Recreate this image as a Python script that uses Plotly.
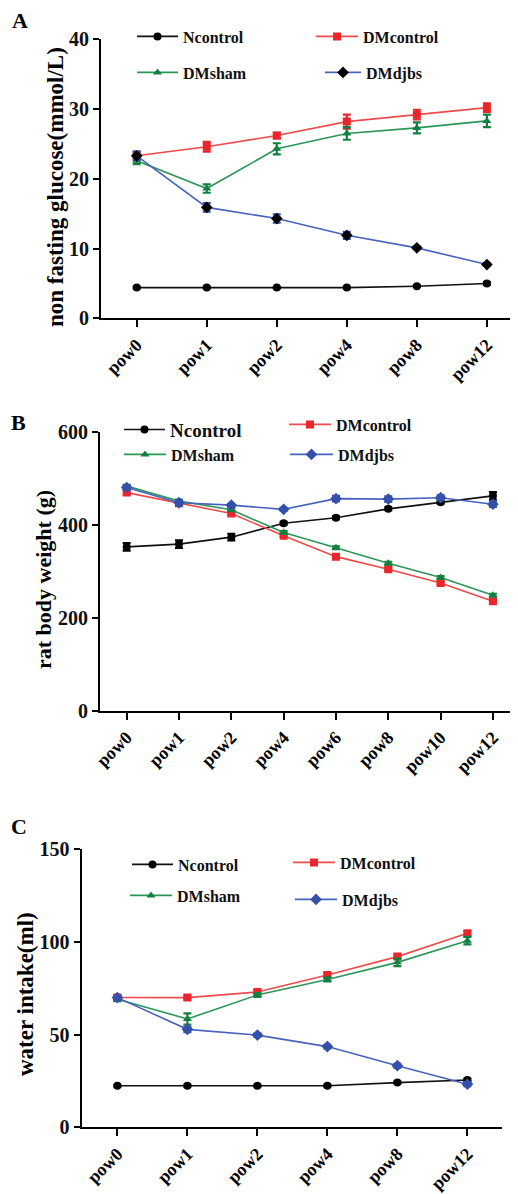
import plotly.graph_objects as go

# The page body keeps its default 8px margin, so the figure is drawn 8px
# in from the window's top-left corner; positions below are window pixels.
OFF = 8
WIN_W, WIN_H = 518, 1194
W, H = WIN_W - OFF, WIN_H - OFF
SERIF = "Liberation Serif"

# ---------------- data ----------------
series_names = ["Ncontrol", "DMcontrol", "DMsham", "DMdjbs"]

cats_a = ["pow0", "pow1", "pow2", "pow4", "pow8", "pow12"]
glu_n = [4.4, 4.4, 4.4, 4.4, 4.6, 5.0]
glu_n_err = [0.1, 0.1, 0.1, 0.1, 0.1, 0.2]
glu_dmc = [23.3, 24.6, 26.2, 28.2, 29.2, 30.2]
glu_dmc_err = [0.6, 0.7, 0.4, 1.0, 0.7, 0.6]
glu_dms = [22.6, 18.6, 24.3, 26.5, 27.3, 28.3]
glu_dms_err = [0.5, 0.6, 0.8, 0.9, 0.8, 0.9]
glu_dmd = [23.3, 15.9, 14.3, 11.9, 10.1, 7.7]
glu_dmd_err = [0.6, 0.6, 0.6, 0.5, 0.2, 0.2]

cats_b = ["pow0", "pow1", "pow2", "pow4", "pow6", "pow8", "pow10", "pow12"]
bw_n = [353, 359, 374, 404, 416, 435, 449, 463]
bw_n_err = [8, 8, 7, 3, 3, 3, 3, 8]
bw_dmc = [470, 447, 425, 377, 332, 305, 275, 236]
bw_dmc_err = [4, 3, 3, 3, 3, 3, 3, 3]
bw_dms = [484, 452, 433, 384, 351, 318, 287, 249]
bw_dms_err = [3, 3, 3, 3, 3, 3, 3, 3]
bw_dmd = [481, 448, 443, 434, 457, 456, 459, 445]
bw_dmd_err = [4, 6, 3, 3, 6, 6, 5, 6]

cats_c = ["pow0", "pow1", "pow2", "pow4", "pow8", "pow12"]
wi_n = [22.4, 22.4, 22.4, 22.4, 24.1, 25.5]
wi_n_err = [0.5, 0.5, 0.5, 0.5, 0.5, 0.8]
wi_dmc = [70.0, 69.9, 72.9, 82.1, 92.0, 104.6]
wi_dmc_err = [1.0, 1.0, 1.0, 1.0, 1.0, 1.2]
wi_dms = [69.0, 58.4, 71.3, 79.7, 88.9, 100.6]
wi_dms_err = [1.0, 3.0, 1.0, 1.0, 2.0, 2.0]
wi_dmd = [69.9, 52.8, 49.7, 43.5, 33.2, 23.2]
wi_dmd_err = [1.0, 1.5, 1.0, 1.0, 1.0, 1.0]

# ---------------- styles ----------------
LINE_COL = {"Ncontrol": "#111111", "DMcontrol": "#f04a4a",
            "DMsham": "#2b9656", "DMdjbs": "#4863be"}
MARK_COL = {"Ncontrol": "#000000", "DMcontrol": "#e8262b",
            "DMsham": "#128040", "DMdjbs": "#3550aa"}
SYMBOL = {"Ncontrol": "circle", "DMcontrol": "square",
          "DMsham": "triangle-up", "DMdjbs": "diamond"}
MSIZE = {"Ncontrol": 8, "DMcontrol": 8, "DMsham": 8, "DMdjbs": 9}

fig = go.Figure()


def px_x(p):
    return (p - OFF) / W


def px_y(p):
    return 1 - (p - OFF) / H


panels = [
    dict(key="", cats=cats_a,
         data=[("Ncontrol", glu_n, glu_n_err), ("DMcontrol", glu_dmc, glu_dmc_err),
               ("DMsham", glu_dms, glu_dms_err), ("DMdjbs", glu_dmd, glu_dmd_err)],
         xd=(101, 517), yd=(39.3, 318.3), xr=[-0.51, 5.43], yr=[0, 40], dt=10,
         djbs_marker="#000000",
         legends=[(152, 35, 183, 16), (331, 35, 363, 16), (152, 71, 183, 16), (340, 71, 366, 16)]),
    dict(key="2", cats=cats_b,
         data=[("Ncontrol", bw_n, bw_n_err), ("DMcontrol", bw_dmc, bw_dmc_err),
               ("DMsham", bw_dms, bw_dms_err), ("DMdjbs", bw_dmd, bw_dmd_err)],
         xd=(100, 517), yd=(432.3, 710.7), xr=[-0.51, 7.46], yr=[0, 600], dt=200,
         djbs_marker=None,
         legends=[(139, 429, 170, 19), (304, 423, 336, 16), (139, 453, 171, 16), (305, 453, 338, 16)]),
    dict(key="3", cats=cats_c,
         data=[("Ncontrol", wi_n, wi_n_err), ("DMcontrol", wi_dmc, wi_dmc_err),
               ("DMsham", wi_dms, wi_dms_err), ("DMdjbs", wi_dmd, wi_dmd_err)],
         xd=(81.7, 501.7), yd=(849, 1127.3), xr=[-0.51, 5.49], yr=[0, 150], dt=50,
         djbs_marker=None,
         legends=[(147, 863, 178, 16), (308, 861, 340, 16), (145, 894, 177, 16), (310, 898, 342, 16)]),
]

layout_extra = {}
legend_idx = 0
for p in panels:
    xa = "x" + p["key"]
    ya = "y" + p["key"]
    xs = list(range(len(p["cats"])))
    for j, (name, vals, err) in enumerate(p["data"]):
        legend_idx += 1
        lname = "legend" if legend_idx == 1 else f"legend{legend_idx}"
        mcol = MARK_COL[name]
        if name == "DMdjbs" and p["djbs_marker"]:
            mcol = p["djbs_marker"]
        fig.add_trace(go.Scatter(
            x=xs, y=vals, xaxis=xa, yaxis=ya, name=name,
            mode="lines+markers",
            line=dict(color=LINE_COL[name], width=1.6),
            marker=dict(symbol=SYMBOL[name], size=MSIZE[name], color=mcol),
            error_y=dict(type="data", array=err, visible=True,
                         color=MARK_COL[name], thickness=2.2, width=4),
            legend=lname, legendgroup=lname, showlegend=True,
        ))
        mx, my, tx, fs = p["legends"][j]
        start = mx - 20
        layout_extra[lname] = dict(
            x=px_x(start), y=px_y(my - 15.5 * fs / 16), xanchor="left", yanchor="top",
            orientation="v", bgcolor="rgba(0,0,0,0)", borderwidth=0,
            itemwidth=max(30, tx - start - 10),
            font=dict(family=SERIF, size=fs, color="#111111", weight="bold"),
        )

    xkey = "xaxis" + p["key"]
    ykey = "yaxis" + p["key"]
    layout_extra[xkey] = dict(
        domain=[px_x(p["xd"][0]), min(1, px_x(p["xd"][1]))], anchor=ya,
        range=p["xr"], tickmode="array", tickvals=xs, ticktext=p["cats"],
        tickangle=-45, ticks="outside", ticklen=7, tickwidth=2, tickcolor="#000",
        showline=True, linecolor="#000", linewidth=2.2, showgrid=False, zeroline=False,
        tickfont=dict(family=SERIF, size=18, color="#000", weight="bold"),
        fixedrange=True, automargin=False,
    )
    layout_extra[ykey] = dict(
        domain=[px_y(p["yd"][1]), px_y(p["yd"][0])], anchor=xa,
        range=p["yr"], dtick=p["dt"], tick0=0,
        ticks="outside", ticklen=6, tickwidth=2, tickcolor="#000",
        showline=True, linecolor="#000", linewidth=2.2, showgrid=False, zeroline=False,
        tickfont=dict(family=SERIF, size=20, color="#111", weight="bold"),
        fixedrange=True, automargin=False,
    )

annotations = [
    dict(text="A", x=px_x(10), y=px_y(20), xanchor="left", yanchor="middle", size=22),
    dict(text="B", x=px_x(9), y=px_y(423), xanchor="left", yanchor="middle", size=22),
    dict(text="C", x=px_x(9), y=px_y(826), xanchor="left", yanchor="middle", size=22),
]
ann_objs = []
for a in annotations:
    ann_objs.append(dict(text=a["text"], x=a["x"], y=a["y"], xref="paper", yref="paper",
                         xanchor=a["xanchor"], yanchor=a["yanchor"], showarrow=False,
                         font=dict(family=SERIF, size=a["size"], color="#000", weight="bold")))

ytitles = [
    ("non fasting glucose(mmol/L)", 55, 187, 23),
    ("rat body weight (g)", 43, 580, 22),
    ("water intake(ml)", 25, 994, 23),
]
for t, cx, cy, fs in ytitles:
    ann_objs.append(dict(text=t, x=px_x(cx), y=px_y(cy), xref="paper", yref="paper",
                         xanchor="center", yanchor="middle", textangle=-90, showarrow=False,
                         font=dict(family=SERIF, size=fs, color="#000", weight="bold")))

fig.update_layout(
    width=W, height=H, margin=dict(l=0, r=0, t=0, b=0, autoexpand=False),
    paper_bgcolor="white", plot_bgcolor="white",
    annotations=ann_objs, showlegend=True,
    **layout_extra,
)

fig.write_html("out.html")
